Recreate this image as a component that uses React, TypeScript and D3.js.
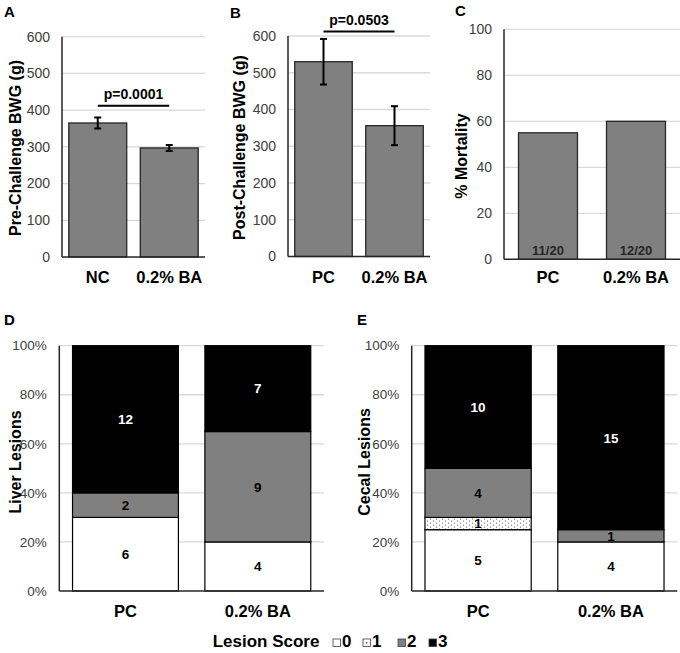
import React from "react";
import * as d3 from "d3";

// ---------- DATA ----------
const preCategories = ["NC", "0.2% BA"];
const preValues = [365, 297];
const preErrors = [15, 8];
const preP = "p=0.0001";
const preBracket = 412;

const postCategories = ["PC", "0.2% BA"];
const postValues = [530, 356];
const postErrors = [62, 53];
const postP = "p=0.0503";
const postBracket = 612;

const bwgTicks = [0, 100, 200, 300, 400, 500, 600];

const mortCategories = ["PC", "0.2% BA"];
const mortValues = [55, 60];
const mortLabels = ["11/20", "12/20"];
const mortTicks = [0, 20, 40, 60, 80, 100];

const lesionCategories = ["PC", "0.2% BA"];
const lesionScores = ["0", "1", "2", "3"];
const liverCounts = [
  [6, 0, 2, 12],
  [4, 0, 9, 7],
];
const cecalCounts = [
  [5, 1, 4, 10],
  [4, 0, 1, 15],
];
const pctTicks = [0, 0.2, 0.4, 0.6, 0.8, 1.0];

// ---------- STYLE ----------
const FONT = "Arial, 'Liberation Sans', sans-serif";
const GRID = "#d9d9d9";
const AXIS = "#262626";
const BAR = "#808080";
const TICKC = "#404040";
const scoreFill: Record<string, string> = {
  "0": "#ffffff",
  "1": "url(#dots)",
  "2": "#808080",
  "3": "#000000",
};

type BarPanelProps = {
  cats: string[];
  values: number[];
  errors?: number[];
  ticks: number[];
  domain: [number, number];
  xr: [number, number];
  yr: [number, number];
  ratio: number;
  tickSize: number;
  yLabel: string;
  yLabelX: number;
  yLabelY: number;
  letter: string;
  letterX: number;
  letterY: number;
  catY: number;
  pText?: string;
  pLevel?: number;
  inner?: string[];
};

function BarPanel(p: BarPanelProps) {
  const x = d3.scaleBand<string>().domain(p.cats).range(p.xr).padding(0);
  const y = d3.scaleLinear().domain(p.domain).range(p.yr);
  const bw = x.bandwidth() * p.ratio;
  const cx = (c: string) => (x(c) as number) + x.bandwidth() / 2;
  return (
    <g fontFamily={FONT}>
      {p.ticks.map((t) =>
        t === p.domain[0] ? null : (
          <line key={"g" + t} x1={p.xr[0]} x2={p.xr[1]} y1={y(t)} y2={y(t)} stroke={GRID} strokeWidth={1.3} />
        )
      )}
      {p.ticks.map((t) => (
        <text key={"t" + t} x={p.xr[0] - 12} y={y(t)} dy="0.35em" textAnchor="end" fontSize={p.tickSize} fill={TICKC}>
          {t}
        </text>
      ))}
      {p.cats.map((c, i) => (
        <rect key={"b" + c} x={cx(c) - bw / 2} y={y(p.values[i])} width={bw} height={y(p.domain[0]) - y(p.values[i])} fill={BAR} stroke={AXIS} strokeWidth={1.3} />
      ))}
      {p.errors &&
        p.cats.map((c, i) => {
          const e = p.errors![i];
          const v = p.values[i];
          const X = cx(c);
          return (
            <g key={"e" + c} stroke="#000" strokeWidth={2}>
              <line x1={X} x2={X} y1={y(v + e)} y2={y(v - e)} />
              <line x1={X - 3.5} x2={X + 3.5} y1={y(v + e)} y2={y(v + e)} />
              <line x1={X - 3.5} x2={X + 3.5} y1={y(v - e)} y2={y(v - e)} />
            </g>
          );
        })}
      {p.inner &&
        p.cats.map((c, i) => (
          <text key={"in" + c} x={cx(c)} y={y(p.domain[0]) - 4.5} textAnchor="middle" fontSize={13} fontWeight="bold" fill="#262626">
            {p.inner![i]}
          </text>
        ))}
      <line x1={p.xr[0]} x2={p.xr[0]} y1={p.yr[1]} y2={p.yr[0]} stroke={AXIS} strokeWidth={1.5} />
      <line x1={p.xr[0]} x2={p.xr[1]} y1={p.yr[0]} y2={p.yr[0]} stroke={AXIS} strokeWidth={1.5} />
      {p.pText && p.pLevel !== undefined && (
        <g>
          <line x1={cx(p.cats[0])} x2={cx(p.cats[1])} y1={y(p.pLevel)} y2={y(p.pLevel)} stroke="#000" strokeWidth={2} />
          <text x={(cx(p.cats[0]) + cx(p.cats[1])) / 2} y={y(p.pLevel) - 6.5} textAnchor="middle" fontSize={14} fontWeight="bold" fill="#000">
            {p.pText}
          </text>
        </g>
      )}
      {p.cats.map((c) => (
        <text key={"c" + c} x={cx(c)} y={p.catY} textAnchor="middle" fontSize={16.5} fontWeight="bold" fill="#000">
          {c}
        </text>
      ))}
      <text transform={`translate(${p.yLabelX},${p.yLabelY}) rotate(-90)`} textAnchor="middle" fontSize={16} fontWeight="bold" fill="#000">
        {p.yLabel}
      </text>
      <text x={p.letterX} y={p.letterY} fontSize={15} fontWeight="bold" fill="#000">
        {p.letter}
      </text>
    </g>
  );
}

type StackProps = {
  counts: number[][];
  xr: [number, number];
  yr: [number, number];
  yLabel: string;
  yLabelX: number;
  yLabelY: number;
  letter: string;
  letterX: number;
  letterY: number;
  catY: number;
};

function StackPanel(p: StackProps) {
  const rows = lesionCategories.map((c, i) => {
    const o: any = { cat: c };
    lesionScores.forEach((s, j) => (o[s] = p.counts[i][j]));
    return o;
  });
  const series = d3.stack<any>().keys(lesionScores).offset(d3.stackOffsetExpand)(rows);
  const x = d3.scaleBand<string>().domain(lesionCategories).range(p.xr).padding(0);
  const y = d3.scaleLinear().domain([0, 1]).range(p.yr);
  const bw = x.bandwidth() * 0.8;
  const cx = (c: string) => (x(c) as number) + x.bandwidth() / 2;
  const fmt = d3.format(".0%");
  return (
    <g fontFamily={FONT}>
      {pctTicks.map((t) =>
        t === 0 ? null : <line key={"g" + t} x1={p.xr[0]} x2={p.xr[1]} y1={y(t)} y2={y(t)} stroke={GRID} strokeWidth={1.3} />
      )}
      {pctTicks.map((t) => (
        <text key={"t" + t} x={p.xr[0] - 12.5} y={y(t)} dy="0.35em" textAnchor="end" fontSize={13.5} fill={TICKC}>
          {fmt(t)}
        </text>
      ))}
      {series.map((s) =>
        s.map((d, i) => {
          const c = lesionCategories[i];
          const n = p.counts[i][lesionScores.indexOf(s.key)];
          if (n === 0) return null;
          return (
            <g key={s.key + c}>
              <rect x={cx(c) - bw / 2} y={y(d[1])} width={bw} height={y(d[0]) - y(d[1])} fill={scoreFill[s.key]} stroke="#000" strokeWidth={1.2} />
              <text x={cx(c)} y={(y(d[0]) + y(d[1])) / 2} dy="0.36em" textAnchor="middle" fontSize={13.5} fontWeight="bold" fill={s.key === "3" ? "#fff" : "#000"}>
                {n}
              </text>
            </g>
          );
        })
      )}
      <line x1={p.xr[0]} x2={p.xr[0]} y1={p.yr[1]} y2={p.yr[0]} stroke={AXIS} strokeWidth={1.5} />
      <line x1={p.xr[0]} x2={p.xr[1]} y1={p.yr[0]} y2={p.yr[0]} stroke={AXIS} strokeWidth={1.5} />
      {lesionCategories.map((c) => (
        <text key={"c" + c} x={cx(c)} y={p.catY} textAnchor="middle" fontSize={16.5} fontWeight="bold" fill="#000">
          {c}
        </text>
      ))}
      <text transform={`translate(${p.yLabelX},${p.yLabelY}) rotate(-90)`} textAnchor="middle" fontSize={16} fontWeight="bold" fill="#000">
        {p.yLabel}
      </text>
      <text x={p.letterX} y={p.letterY} fontSize={15} fontWeight="bold" fill="#000">
        {p.letter}
      </text>
    </g>
  );
}

const legendX = [333, 363, 398, 429];

export default function App() {
  return (
    <svg width={680} height={653} style={{ position: "absolute", left: 0, top: 0, background: "#fff" }}>
      <defs>
        <pattern id="dots" width="6" height="4" patternUnits="userSpaceOnUse">
          <rect width="6" height="4" fill="#fff" />
          <circle cx="1.5" cy="1" r="0.6" fill="#444" />
          <circle cx="4.5" cy="3" r="0.6" fill="#444" />
        </pattern>
      </defs>
      <rect width={680} height={653} fill="#fff" />
      <BarPanel
        cats={preCategories} values={preValues} errors={preErrors} ticks={bwgTicks} domain={[0, 600]}
        xr={[62, 205]} yr={[257, 36.7]} ratio={0.81} tickSize={14}
        yLabel="Pre-Challenge BWG (g)" yLabelX={21} yLabelY={148}
        letter="A" letterX={4} letterY={17} catY={283} pText={preP} pLevel={preBracket}
      />
      <BarPanel
        cats={postCategories} values={postValues} errors={postErrors} ticks={bwgTicks} domain={[0, 600]}
        xr={[288, 430]} yr={[256.5, 36]} ratio={0.81} tickSize={14}
        yLabel="Post-Challenge BWG (g)" yLabelX={245} yLabelY={147.5}
        letter="B" letterX={230} letterY={18} catY={283} pText={postP} pLevel={postBracket}
      />
      <BarPanel
        cats={mortCategories} values={mortValues} ticks={mortTicks} domain={[0, 100]}
        xr={[504, 680]} yr={[259.3, 29.3]} ratio={0.67} tickSize={14}
        yLabel="% Mortality" yLabelX={467} yLabelY={156}
        letter="C" letterX={455} letterY={16} catY={283} inner={mortLabels}
      />
      <StackPanel
        counts={liverCounts} xr={[59.3, 324]} yr={[591, 345.7]}
        yLabel="Liver Lesions" yLabelX={21} yLabelY={462}
        letter="D" letterX={4} letterY={325} catY={617}
      />
      <StackPanel
        counts={cecalCounts} xr={[411.7, 677.3]} yr={[591, 345.7]}
        yLabel="Cecal Lesions" yLabelX={370} yLabelY={462}
        letter="E" letterX={357} letterY={325} catY={617}
      />
      <g fontFamily={FONT} fontWeight="bold" fontSize={17}>
        <text x={212.7} y={647} fill="#000">Lesion Score</text>
        {lesionScores.map((s, i) => (
          <g key={"lg" + s}>
            <rect x={legendX[i]} y={639} width={7.5} height={7.5} fill={s === "1" ? "#fff" : scoreFill[s]} stroke="#404040" strokeWidth={0.8} />
            {s === "1" && <circle cx={legendX[i] + 3.75} cy={642.75} r={0.8} fill="#404040" />}
            <text x={legendX[i] + 9} y={647} fill="#000">{s}</text>
          </g>
        ))}
      </g>
    </svg>
  );
}
